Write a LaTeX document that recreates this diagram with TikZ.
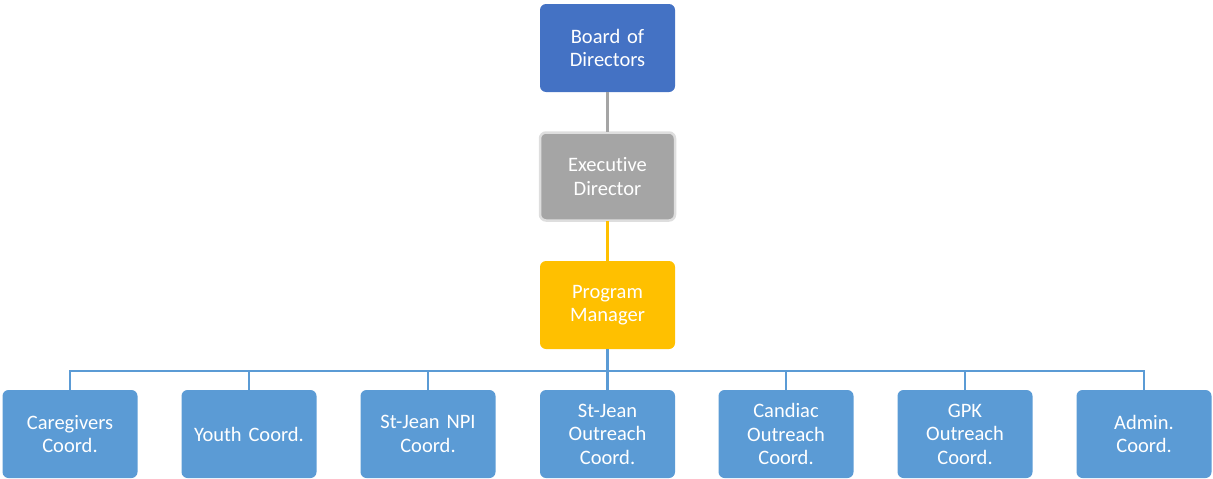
\documentclass[tikz,border=0pt]{standalone}
\usepackage{fontspec}
\setmainfont[Ligatures={NoCommon},WordSpace=0.8]{Carlito}
\definecolor{boardblue}{HTML}{4472C4}
\definecolor{execgray}{HTML}{A5A5A5}
\definecolor{pmyellow}{HTML}{FFC000}
\definecolor{staffblue}{HTML}{5B9BD5}
\definecolor{execborder}{HTML}{DEDEDE}
\begin{document}
\begin{tikzpicture}[x=1pt,y=-1pt,
  box/.style={rectangle, rounded corners=6pt, minimum width=135pt, minimum height=88pt,
    text width=132pt, align=center, text=white, inner sep=0pt,
    font=\fontsize{20.5}{23.5}\selectfont},
  boardbox/.style={box, fill=boardblue},
  execbox/.style={box, fill=execgray, draw=execborder, line width=2.5pt},
  pmbox/.style={box, fill=pmyellow},
  staffbox/.style={box, fill=staffblue},
  link/.style={line width=2.5pt}
]
\useasboundingbox (0,0) rectangle (1213,479);
\node[boardbox] (board) at (607.5,48) {Board of\\Directors};
\node[execbox] (exec) at (607.5,176.5) {Executive\\Director};
\node[pmbox] (pm) at (607.5,305) {Program\\Manager};
\node[staffbox] (s1) at (70,434) {Caregivers\\Coord.};
\node[staffbox] (s2) at (249,434) {Youth Coord.};
\node[staffbox] (s3) at (428,434) {St-Jean NPI\\Coord.};
\node[staffbox] (s4) at (607.5,434) {St-Jean\\Outreach\\Coord.};
\node[staffbox] (s5) at (786,434) {Candiac\\Outreach\\Coord.};
\node[staffbox] (s6) at (965,434) {GPK\\Outreach\\Coord.};
\node[staffbox] (s7) at (1144,434) {Admin.\\Coord.};
\coordinate (bus) at (607.5,371);
\draw[link, draw=execgray] (board.south) -- ([yshift=-1pt]exec.north);
\draw[link, draw=pmyellow] ([yshift=1pt]exec.south) -- (pm.north);
\draw[link, draw=staffblue] (pm.south) -- (bus);
\foreach \s in {s1,s2,s3,s4,s5,s6,s7}{
  \draw[link, draw=staffblue, line cap=rect] (bus) -| (\s.north);
}
\end{tikzpicture}
\end{document}
